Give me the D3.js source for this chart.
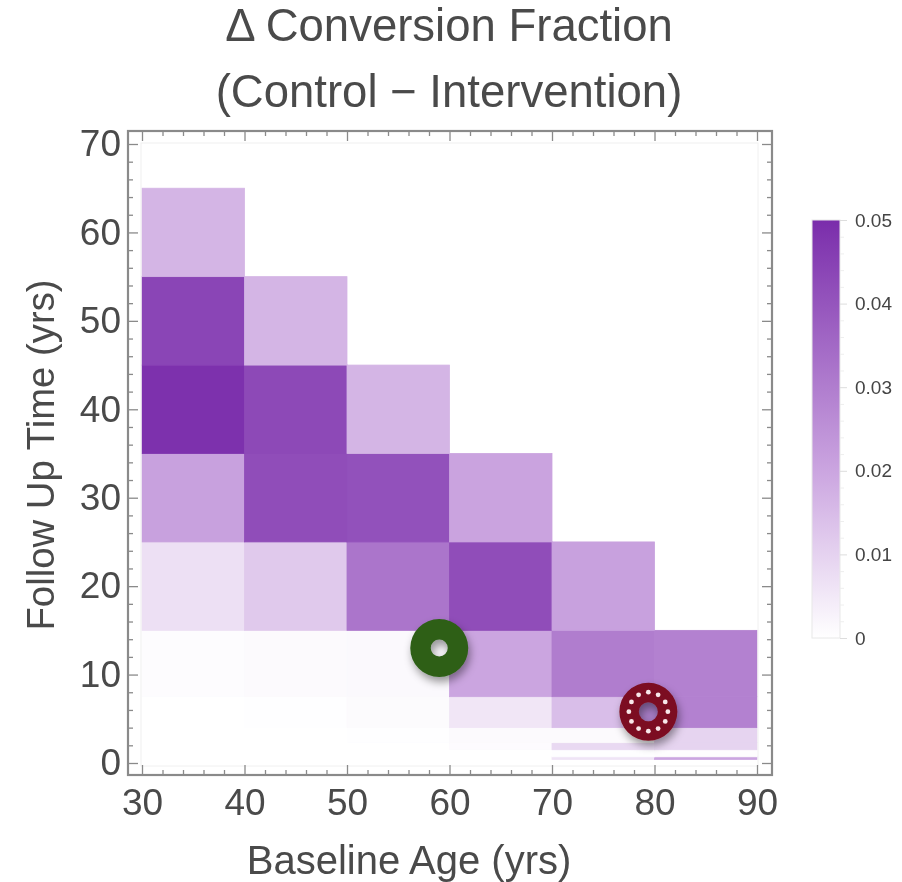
<!DOCTYPE html>
<html>
<head>
<meta charset="utf-8">
<script src="https://d3js.org/d3.v7.min.js"></script>
<style>
  body { margin: 0; background: #fff; }
  svg { display: block; filter: blur(0.6px); }
  text { font-family: "Liberation Sans", Arial, sans-serif; fill: #4a4a4a; }
</style>
</head>
<body>
<svg id="frame" width="902" height="882"></svg>

<script>
// bin edges
var ageEdges = [30, 40, 50, 60, 70, 80, 90]
var followEdges = [0.4, 0.7, 1.5, 2.3, 4, 7.5, 15, 25, 35, 45, 55, 65]

// one row per follow up bin (bottom to top), one value per age bin, null = no cell
var row0 = [null, null, null, null, 0.006, 0.02]
var row1 = [null, null, null, null, 0.0003, 0.0005]
var row2 = [null, null, null, 0.0008, 0.0085, 0.0095]
var row3 = [0, 0, 0.0003, 0.0012, 0.0012, 0.0095]
var row4 = [0.0001, 0.0003, 0.001, 0.0055, 0.0145, 0.029]
var row5 = [0.0006, 0.0012, 0.0014, 0.02, 0.03, 0.029]
var row6 = [0.007, 0.012, 0.032, 0.042, 0.021, null]
var row7 = [0.021, 0.042, 0.041, 0.0205, null, null]
var row8 = [0.049, 0.043, 0.0165, null, null, null]
var row9 = [0.044, 0.0165, null, null, null, null]
var row10 = [0.0165, null, null, null, null, null]
var rows = [row0, row1, row2, row3, row4, row5, row6, row7, row8, row9, row10]

var xMajor = [30, 40, 50, 60, 70, 80, 90]
var xMinor = d3.range(30, 91, 2).filter(d => d % 10 != 0)
var yMajor = [0, 10, 20, 30, 40, 50, 60, 70]
var yMinor = d3.range(0, 71, 2).filter(d => d % 10 != 0)
var barTicks = [0, 0.01, 0.02, 0.03, 0.04, 0.05]
var barMinor = d3.range(0, 0.05, 0.002).filter((d, i) => i % 5 != 0)
var colorStops = [0, 0.02, 0.05]
var colorValues = ['#ffffff', '#cba5e0', '#7a2dab']

// the two ring markers [age, follow up]
var greenRing = [59, 13]
var redRing = [79.4, 5.8]
var redDots = d3.range(12)

var left = 128, right = 772, top_ = 131, bottom = 775

var xScale = d3.scaleLinear().domain([30, 90]).range([142, 757])
var yScale = d3.scaleLinear().domain([0, 70]).range([763, 144])
var barScale = d3.scaleLinear().domain([0, 0.05]).range([638, 220])
var color = d3.scaleLinear().domain(colorStops).range(colorValues)

var svg = d3.select('#frame')

var defs = svg.append('defs')
var shadow = defs.append('filter').attr('id', 'shadow')
  .attr('x', '-30%').attr('y', '-30%').attr('width', '170%').attr('height', '170%')
shadow.append('feDropShadow')
  .attr('dx', 2).attr('dy', 5).attr('stdDeviation', 4)
  .attr('flood-color', '#000').attr('flood-opacity', 0.4)

var barGradient = defs.append('linearGradient').attr('id', 'barGradient')
  .attr('x1', 0).attr('y1', 1).attr('x2', 0).attr('y2', 0)
barGradient.selectAll('stop')
  .data(colorStops)
  .enter()
  .append('stop')
  .attr('offset', d => d / 0.05)
  .attr('stop-color', d => color(d))

// titles
svg.append('text')
  .attr('x', 449).attr('y', 41)
  .style('text-anchor', 'middle')
  .style('font-size', '45.5px')
  .text('Δ Conversion Fraction')

svg.append('text')
  .attr('x', 449).attr('y', 107)
  .style('text-anchor', 'middle')
  .style('font-size', '45.5px')
  .text('(Control − Intervention)')

// cells
var cells = []
rows.forEach((row, j) => {
  row.forEach((v, i) => {
    if (v != null) cells.push({ i: i, j: j, v: v })
  })
})

svg.append('g').selectAll('rect')
  .data(cells)
  .enter()
  .append('rect')
  .attr('x', d => xScale(ageEdges[d.i]))
  .attr('width', d => xScale(ageEdges[d.i + 1]) - xScale(ageEdges[d.i]))
  .attr('y', d => yScale(followEdges[d.j + 1]))
  .attr('height', d => yScale(followEdges[d.j]) - yScale(followEdges[d.j + 1]))
  .attr('fill', d => color(d.v))
  .attr('stroke', d => color(d.v))
  .attr('stroke-width', 0.8)

// light inner plot range
svg.append('rect')
  .attr('x', 141).attr('y', 143)
  .attr('width', 617).attr('height', 623)
  .attr('fill', 'none')
  .attr('stroke', '#f0f0f0')

// frame with ticks on all sides
function styleAxis(g) {
  g.select('.domain').remove()
  g.selectAll('line').attr('stroke', '#8a8a8a').attr('stroke-width', 1.3)
}

function addTicks(axisFn, scale, major, minor, transform, labels) {
  svg.append('g')
    .attr('transform', transform)
    .call(axisFn(scale).tickValues(minor).tickSize(-5).tickFormat(''))
    .call(styleAxis)
  var g = svg.append('g')
    .attr('transform', transform)
    .call(axisFn(scale).tickValues(major).tickSize(-10).tickPadding(labels ? 24 : 0)
      .tickFormat(labels ? d => d : ''))
    .call(styleAxis)
  g.selectAll('text').style('font-size', '37px').style('fill', '#4a4a4a')
  return g
}

var xLabels = addTicks(d3.axisBottom, xScale, xMajor, xMinor, `translate(0,${bottom})`, true)
xLabels.selectAll('text').attr('dy', 0).attr('y', 40)
addTicks(d3.axisTop, xScale, xMajor, xMinor, `translate(0,${top_})`, false)
var yLabels = addTicks(d3.axisLeft, yScale, yMajor, yMinor, `translate(${left},0)`, true)
yLabels.selectAll('text').attr('x', -7)
addTicks(d3.axisRight, yScale, yMajor, yMinor, `translate(${right},0)`, false)

svg.append('rect')
  .attr('x', left).attr('y', top_)
  .attr('width', right - left).attr('height', bottom - top_)
  .attr('fill', 'none')
  .attr('stroke', '#8a8a8a')
  .attr('stroke-width', 2.2)

// axis titles
svg.append('text')
  .attr('x', 409).attr('y', 874)
  .style('text-anchor', 'middle')
  .style('font-size', '40px')
  .text('Baseline Age (yrs)')

svg.append('text')
  .attr('transform', 'translate(54,455) rotate(-90)')
  .style('text-anchor', 'middle')
  .style('font-size', '38.3px')
  .text('Follow Up Time (yrs)')

// colour bar
svg.append('rect')
  .attr('x', 812).attr('y', barScale(0.05))
  .attr('width', 28).attr('height', barScale(0) - barScale(0.05))
  .attr('fill', 'url(#barGradient)')
  .attr('stroke', '#e8e8e8')

var barAxis = svg.append('g')
  .attr('transform', 'translate(840,0)')
  .call(d3.axisRight(barScale).tickValues(barTicks).tickSize(7).tickPadding(8)
    .tickFormat(d => d == 0 ? '0' : d3.format('.2f')(d)))
barAxis.select('.domain').remove()
barAxis.selectAll('line').attr('stroke', '#dddddd')
barAxis.selectAll('text').style('font-size', '19px').style('fill', '#444')

var barAxis2 = svg.append('g')
  .attr('transform', 'translate(840,0)')
  .call(d3.axisRight(barScale).tickValues(barMinor).tickSize(4).tickFormat(''))
barAxis2.select('.domain').remove()
barAxis2.selectAll('line').attr('stroke', '#eeeeee')

// ring markers
var ringGreen = d3.arc().innerRadius(8.5).outerRadius(29).startAngle(0).endAngle(2 * Math.PI)
var ringRed = d3.arc().innerRadius(9.5).outerRadius(29).startAngle(0).endAngle(2 * Math.PI)

svg.append('path')
  .attr('transform', `translate(${xScale(greenRing[0])},${yScale(greenRing[1])})`)
  .attr('d', ringGreen())
  .attr('fill', '#2d5f19')
  .attr('filter', 'url(#shadow)')

var red = svg.append('g')
  .attr('transform', `translate(${xScale(redRing[0])},${yScale(redRing[1])})`)

red.append('circle')
  .attr('r', 10)
  .attr('fill', '#a67cc4')

red.append('path')
  .attr('d', ringRed())
  .attr('fill', '#7b1020')
  .attr('filter', 'url(#shadow)')

red.selectAll('circle.dot')
  .data(redDots)
  .enter()
  .append('circle')
  .attr('class', 'dot')
  .attr('cx', d => 19.5 * Math.cos(d / 12 * 2 * Math.PI))
  .attr('cy', d => 19.5 * Math.sin(d / 12 * 2 * Math.PI))
  .attr('r', 2.4)
  .attr('fill', '#f8e8ea')
</script>
</body>
</html>
